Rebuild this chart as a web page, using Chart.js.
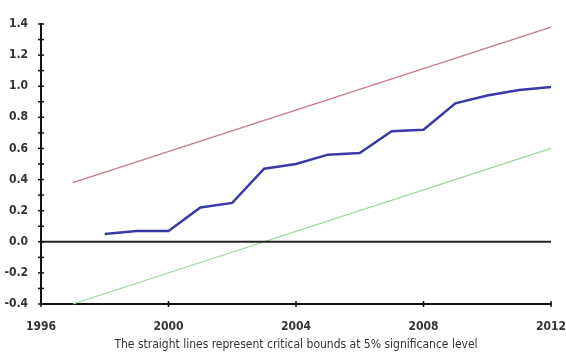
<!DOCTYPE html>
<html>
<head>
<meta charset="utf-8">
<script src="https://cdn.jsdelivr.net/npm/chart.js@4/dist/chart.umd.min.js"></script>
<style>
  html, body { margin: 0; padding: 0; background: #fff; }
  #wrap { width: 566px; height: 354px; }
</style>
</head>
<body>
<div id="wrap"><canvas id="c" width="566" height="354"></canvas></div>
<script>
// CUSUM statistic by year
const years = [1998, 1999, 2000, 2001, 2002, 2003, 2004, 2005, 2006, 2007, 2008, 2009, 2010, 2011, 2012];
const cusum = [0.05, 0.07, 0.07, 0.22, 0.25, 0.47, 0.50, 0.56, 0.57, 0.71, 0.72, 0.89, 0.94, 0.975, 0.995];

// Critical bounds (5% significance), straight lines given by their endpoints
const boundYears = [1997, 2012];
const upperBound = [0.38, 1.38];
const lowerBound = [-0.40, 0.60];

// Reference line at zero
const zeroYears = [1996, 2012];
const zeroLine = [0, 0];

const xTicks = [1996, 2000, 2004, 2008, 2012];
const caption = 'The straight lines represent critical bounds at 5% significance level';

const pts = (xs, ys) => xs.map((x, i) => ({ x: x, y: ys[i] }));
const FONT = "'DejaVu Sans', sans-serif";

// Tick marks crossing the axis lines
const crossTicks = {
  id: 'crossTicks',
  afterDatasetsDraw(chart) {
    const { ctx, scales: { x, y } } = chart;
    ctx.save();
    ctx.strokeStyle = '#111';
    ctx.lineWidth = 1.5;
    const x0 = x.left;
    y.ticks.forEach(t => {
      const py = y.getPixelForValue(t.value);
      ctx.beginPath();
      ctx.moveTo(x0 - 3, py);
      ctx.lineTo(x0 + 3, py);
      ctx.stroke();
    });
    const y0 = y.bottom;
    x.ticks.forEach(t => {
      const px = x.getPixelForValue(t.value);
      ctx.beginPath();
      ctx.moveTo(px, y0 - 3);
      ctx.lineTo(px, y0 + 3);
      ctx.stroke();
    });
    ctx.restore();
  }
};

new Chart(document.getElementById('c'), {
  type: 'line',
  data: {
    datasets: [
      { data: pts(zeroYears, zeroLine), borderColor: '#222', borderWidth: 2, pointRadius: 0, clip: false },
      { data: pts(boundYears, upperBound), borderColor: '#c87a84', borderWidth: 1.3, pointRadius: 0, clip: false },
      { data: pts(boundYears, lowerBound), borderColor: '#9ed69e', borderWidth: 1.3, pointRadius: 0, clip: false },
      { data: pts(years, cusum), borderColor: '#3a3aa6', borderWidth: 2.5, pointRadius: 0, clip: false }
    ]
  },
  options: {
    responsive: false,
    animation: false,
    layout: { padding: { left: 0, top: 24, right: 15, bottom: 0 } },
    plugins: { legend: { display: false }, tooltip: { enabled: false } },
    scales: {
      x: {
        type: 'linear',
        min: 1996, max: 2012,
        afterBuildTicks: s => { s.ticks = xTicks.map(v => ({ value: v })); },
        afterFit: s => { s.height = 50; s.paddingLeft = 0; s.paddingRight = 0; },
        grid: { display: false },
        border: { display: true, color: '#111', width: 2 },
        ticks: {
          padding: 8,
          color: '#333',
          font: { family: FONT, size: 12, weight: 'bold condensed' },
          callback: v => String(v)
        },
        title: {
          display: true,
          text: caption,
          color: '#333',
          font: { family: FONT, size: 12, weight: 'normal condensed' },
          padding: { top: 0, bottom: 2 }
        }
      },
      y: {
        min: -0.4, max: 1.4,
        afterFit: s => { s.width = 41; s.paddingTop = 0; s.paddingBottom = 0; },
        grid: { display: false },
        border: { display: true, color: '#111', width: 2 },
        ticks: {
          stepSize: 0.1,
          autoSkip: false,
          padding: 5,
          color: '#333',
          font: { family: FONT, size: 12, weight: 'bold condensed' },
          callback: v => {
            const k = Math.round(v * 10);
            return k % 2 === 0 ? (k / 10).toFixed(1) : '';
          }
        }
      }
    }
  },
  plugins: [crossTicks]
});
</script>
</body>
</html>
